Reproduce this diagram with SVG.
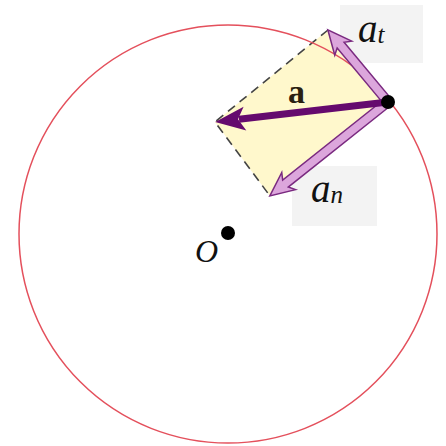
<svg xmlns="http://www.w3.org/2000/svg" width="446" height="446" viewBox="0 0 446 446">
<style>
.lbl{fill:#f3f3f3}
.it{font-family:"Liberation Serif","DejaVu Serif",serif;font-style:italic;fill:#111}
.hol{fill:#dca6dc;stroke:#7a2a80;stroke-width:1.5;stroke-linejoin:miter}
.dash{fill:none;stroke:#444;stroke-width:1.6;stroke-dasharray:9,6}
</style>
<rect width="446" height="446" fill="#fff"/>
<g id="labels-bg">
<rect class="lbl" x="340" y="5" width="83" height="58"/>
<rect class="lbl" x="292" y="166" width="85" height="60"/>
</g>
<g id="parallelogram">
<polygon points="388,102 328,30 215,122 270,196" fill="#fff8cc"/>
<polyline class="dash" points="328,30 215,122 270,196"/>
</g>
<g id="circle">
<circle cx="228" cy="234" r="209" fill="none" stroke="#e4505c" stroke-width="1.5"/>
</g>
<g id="connectors">
<path id="at-arrow" class="hol" transform="translate(388,102) rotate(-129.8)" d="M0,-4.5 L74,-4.5 L70,-11 L94,0 L70,11 L74,4.5 L0,4.5 Z"/>
<path id="an-arrow" class="hol" transform="translate(388,102) rotate(141.5)" d="M0,-4.5 L131,-4.5 L127,-11 L151,0 L127,11 L131,4.5 L0,4.5 Z"/>
<g id="a-arrow" transform="translate(388,102) rotate(173.4)" fill="#650a6e">
<path d="M0,-3.5 L150,-3.5 L150,3.5 L0,3.5 Z"/>
<path d="M144,-12 L174,0 L144,12 L151,0 Z"/>
</g>
</g>
<g id="P">
<circle cx="388" cy="102" r="7" fill="#000"/>
</g>
<g id="O">
<circle cx="228" cy="233" r="7" fill="#000"/>
<text class="it" x="195" y="262" font-size="32" fill="#1a1a3a">O</text>
</g>
<g id="texts">
<text x="288" y="103" font-family="Liberation Serif, serif" font-weight="bold" font-size="34" fill="#2a2010">a</text>
<text class="it" x="358" y="42" font-size="39">a<tspan font-size="25" dy="1">t</tspan></text>
<text class="it" x="311" y="202" font-size="39">a<tspan font-size="25" dy="1">n</tspan></text>
</g>
</svg>
